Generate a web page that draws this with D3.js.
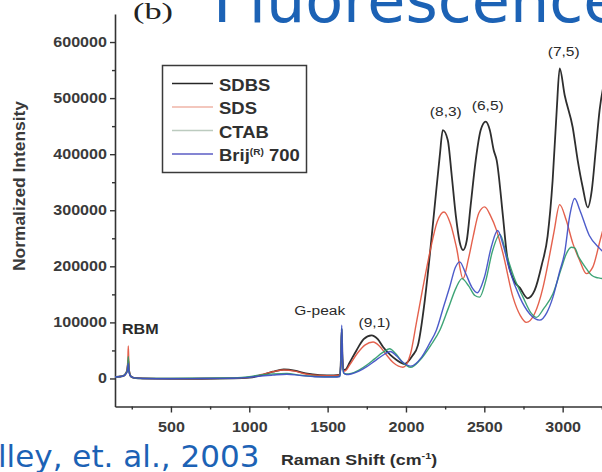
<!DOCTYPE html>
<html>
<head>
<meta charset="utf-8">
<script src="https://cdn.jsdelivr.net/npm/d3@7"></script>
<style>
  html, body { margin: 0; padding: 0; background: #ffffff; overflow: hidden; }
  svg { display: block; }
</style>
</head>
<body>
<svg id="chart" width="602" height="472"></svg>
<script>
// Raman spectra of single-walled carbon nanotubes suspended in four surfactants.

const seriesNames = ["SDBS", "SDS", "CTAB", "Brij 700"];
const seriesColors = ["#1c1c1c", "#e2543e", "#2e9c6a", "#3e4ec6"];
const legendColors = ["#262626", "#efb4a7", "#bccbbf", "#5b5dc4"];

const shiftMajorTicks = [500, 1000, 1500, 2000, 2500, 3000];
const shiftMinorTicks = [250, 750, 1250, 1750, 2250, 2750, 3250];
const intensityMajorTicks = [0, 100000, 200000, 300000, 400000, 500000, 600000];
const intensityMinorTicks = [50000, 150000, 250000, 350000, 450000, 550000];

// [Raman shift (cm^-1), normalized intensity]
const sdbs = [
  [143, 2500], [180, 3500], [200, 5000], [212, 9000], [220, 14000], [225, 24000], [228, 32000],
  [231, 20000], [236, 9000], [245, 3500], [265, 1000], [320, 0], [500, -500], [700, -500],
  [900, 0], [1000, 1500], [1080, 6000], [1150, 12000], [1220, 16000], [1290, 14000], [1360, 9000],
  [1450, 6000], [1540, 5500], [1578, 7000], [1585, 35000], [1590, 88000], [1595, 35000],
  [1602, 15000], [1615, 16000], [1640, 28000], [1684, 50000], [1730, 70000], [1780, 77000],
  [1820, 70000], [1854, 56000], [1900, 42000], [1940, 33000], [1992, 26000], [2040, 40000],
  [2076, 59000], [2120, 139000], [2152, 220000], [2184, 309000], [2216, 398000], [2235, 443000],
  [2267, 425000], [2292, 362000], [2318, 291000], [2343, 243000], [2365, 229000], [2388, 246000],
  [2413, 309000], [2445, 389000], [2477, 443000], [2509, 458000], [2535, 443000], [2560, 407000],
  [2579, 389000], [2619, 289000], [2643, 223000], [2688, 175000], [2726, 162000], [2777, 143000],
  [2821, 157000], [2866, 202000], [2904, 254000], [2936, 353000], [2962, 478000], [2981, 553000],
  [3013, 505000], [3064, 448000], [3096, 389000], [3128, 341000], [3160, 305000], [3186, 336000],
  [3211, 407000], [3236, 479000], [3268, 532000]
];

const sds = [
  [143, 2500], [180, 3500], [200, 5000], [212, 9000], [220, 16000], [225, 34000], [228, 58000],
  [231, 30000], [236, 10000], [245, 3500], [265, 1000], [320, 0], [500, -500], [700, 0],
  [900, 500], [1000, 2000], [1080, 7000], [1150, 12000], [1220, 15000], [1290, 13000], [1360, 8000],
  [1450, 5500], [1540, 5000], [1578, 6500], [1585, 33000], [1590, 85000], [1595, 33000],
  [1602, 13000], [1615, 14000], [1640, 24000], [1690, 45000], [1740, 60000], [1790, 65000],
  [1830, 58000], [1870, 44000], [1920, 28000], [1981, 20000], [2030, 45000], [2067, 100000],
  [2110, 165000], [2151, 223000], [2200, 280000], [2243, 297000], [2285, 275000], [2322, 234000],
  [2364, 178000], [2400, 215000], [2428, 252000], [2465, 295000], [2502, 306000], [2540, 290000],
  [2577, 265000], [2620, 222000], [2683, 145000], [2730, 112000], [2768, 100000], [2820, 115000],
  [2875, 163000], [2910, 210000], [2945, 262000], [2981, 310000], [3023, 282000], [3066, 240000],
  [3108, 211000], [3151, 187000], [3193, 199000], [3236, 243000], [3280, 290000]
];

const ctab = [
  [143, 2500], [180, 3500], [200, 5000], [212, 9000], [220, 14000], [225, 26000], [228, 39000],
  [231, 22000], [236, 9000], [245, 3500], [265, 1000], [320, 0], [500, 0], [700, 500],
  [900, 1000], [1000, 3000], [1060, 6000], [1150, 8000], [1240, 9000], [1320, 6000], [1420, 3500],
  [1540, 3000], [1578, 4000], [1585, 33000], [1590, 90000], [1595, 33000], [1602, 10000],
  [1620, 8000], [1650, 9000], [1700, 15000], [1750, 24000], [1800, 35000], [1850, 46000],
  [1895, 53000], [1935, 44000], [1975, 30000], [2030, 20000], [2090, 33000], [2160, 60000],
  [2216, 86000], [2270, 125000], [2322, 163000], [2357, 178000], [2400, 165000], [2440, 148000],
  [2470, 145000], [2510, 175000], [2550, 225000], [2600, 257000], [2640, 222000], [2690, 180000],
  [2747, 145000], [2800, 116000], [2832, 109000], [2880, 125000], [2938, 151000], [2990, 195000],
  [3023, 222000], [3055, 234000], [3077, 233000], [3100, 218000], [3129, 205000], [3151, 196000],
  [3185, 184000], [3215, 180000], [3236, 179000], [3300, 175000]
];

const brij = [
  [143, 2500], [180, 3500], [200, 5000], [212, 8000], [220, 12000], [225, 19000], [228, 27000],
  [231, 16000], [236, 8000], [245, 3500], [265, 1000], [320, 0], [500, -500], [700, 0],
  [900, 500], [1000, 2000], [1060, 4000], [1150, 6000], [1240, 7500], [1320, 5500], [1420, 3000],
  [1540, 2500], [1578, 3500], [1585, 36000], [1590, 95000], [1595, 36000], [1602, 10000],
  [1620, 7000], [1650, 8000], [1700, 13000], [1750, 21000], [1800, 31000], [1850, 41000],
  [1900, 48000], [1940, 40000], [1980, 29000], [2030, 22000], [2100, 38000], [2150, 62000],
  [2194, 86000], [2240, 128000], [2279, 163000], [2315, 198000], [2343, 208000], [2380, 188000],
  [2420, 163000], [2455, 153000], [2500, 180000], [2545, 235000], [2585, 264000], [2620, 238000],
  [2660, 195000], [2726, 145000], [2790, 115000], [2853, 104000], [2900, 118000], [2938, 145000],
  [2980, 190000], [3013, 225000], [3045, 290000], [3077, 321000], [3110, 300000], [3170, 255000],
  [3236, 232000], [3300, 215000]
];

const seriesData = [sdbs, sds, ctab, brij];

// peak annotations: label, Raman shift and intensity of the labelled peak
const peakLabels = ["RBM", "G-peak", "(9,1)", "(8,3)", "(6,5)", "(7,5)"];
const peakShifts = [228, 1590, 1780, 2235, 2509, 2981];
const peakValues = [58000, 95000, 77000, 443000, 458000, 553000];

const svg = d3.select("#chart");
const SANS = "'Liberation Sans', Arial, sans-serif";
const STRETCH = 1.15;

const x = d3.scaleLinear().domain([143, 3500]).range([115, 641]);
const y = d3.scaleLinear().domain([-50000, 650000]).range([406.5, 14]);

// headline and citation text around the chart
svg.append("text")
  .attr("x", 213).attr("y", 22)
  .attr("font-family", "'DejaVu Sans', Verdana, sans-serif")
  .attr("font-size", 62)
  .attr("fill", "#1c62b5")
  .text("Fluorescence");

svg.append("text")
  .attr("x", -2).attr("y", 467)
  .attr("font-family", "'DejaVu Sans', Verdana, sans-serif")
  .attr("font-size", 31)
  .attr("fill", "#1c62b5")
  .text("lley, et. al., 2003");

svg.append("text")
  .attr("x", 133).attr("y", 19)
  .attr("font-family", "'Liberation Serif', 'Times New Roman', serif")
  .attr("font-size", 23)
  .attr("fill", "#222")
  .attr("textLength", 40)
  .attr("lengthAdjust", "spacingAndGlyphs")
  .text("(b)");

// axes
const axisColor = "#333";
function styleAxis(g) {
  g.select(".domain").attr("stroke", axisColor).attr("stroke-width", 1.6);
  g.selectAll(".tick line").attr("stroke", axisColor).attr("stroke-width", 1.4);
}

const yMinor = svg.append("g").attr("transform", "translate(115,0)")
  .call(d3.axisLeft(y).tickValues(intensityMinorTicks).tickSize(3).tickFormat(""));
styleAxis(yMinor);
yMinor.select(".domain").remove();

const yAxis = svg.append("g").attr("transform", "translate(115,0)")
  .call(d3.axisLeft(y).tickValues(intensityMajorTicks).tickSize(5).tickSizeOuter(0)
    .tickPadding(2).tickFormat(d3.format("d")));
styleAxis(yAxis);
yAxis.selectAll("text")
  .attr("font-family", SANS).attr("font-size", 14).attr("font-weight", "bold")
  .attr("fill", "#3a3a3a")
  .attr("transform", `scale(${STRETCH},1)`);

const xMinor = svg.append("g").attr("transform", "translate(0,406.5)")
  .call(d3.axisBottom(x).tickValues(shiftMinorTicks).tickSize(3).tickFormat(""));
styleAxis(xMinor);
xMinor.select(".domain").remove();

const xAxis = svg.append("g").attr("transform", "translate(0,406.5)")
  .call(d3.axisBottom(x).tickValues(shiftMajorTicks).tickSize(6).tickSizeOuter(0)
    .tickFormat(d3.format("d")));
styleAxis(xAxis);
xAxis.selectAll("text")
  .attr("font-family", SANS).attr("font-size", 14).attr("font-weight", "bold")
  .attr("fill", "#3a3a3a")
  .attr("y", 25.5).attr("dy", 0)
  .attr("transform", `scale(${STRETCH},1)`);

// axis titles
svg.append("text")
  .attr("transform", "translate(25,186) rotate(-90)")
  .attr("text-anchor", "middle")
  .attr("font-family", SANS).attr("font-size", 16.5).attr("font-weight", "bold")
  .attr("fill", "#3a3a3a")
  .attr("textLength", 170).attr("lengthAdjust", "spacingAndGlyphs")
  .text("Normalized Intensity");

const xTitle = svg.append("text")
  .attr("transform", `translate(281,465) scale(${STRETCH},1)`)
  .attr("font-family", SANS).attr("font-size", 15.5).attr("font-weight", "bold")
  .attr("fill", "#2e2e2e");
xTitle.append("tspan").text("Raman Shift (cm");
xTitle.append("tspan").attr("font-size", 9.5).attr("dy", -6).text("-1");
xTitle.append("tspan").attr("dy", 6).text(")");

// spectra
const line = d3.line()
  .x(d => x(d[0]))
  .y(d => y(d[1]))
  .curve(d3.curveMonotoneX);

const plot = svg.append("g");
seriesData.forEach((data, i) => {
  plot.append("path")
    .datum(data)
    .attr("fill", "none")
    .attr("stroke", seriesColors[i])
    .attr("stroke-width", i === 0 ? 1.8 : 1.4)
    .attr("stroke-linejoin", "round")
    .attr("opacity", 0.92)
    .attr("d", line);
});

// peak annotations
const labelOffsets = [
  { dx: 12, dy: -12 },
  { dx: -22, dy: -10 },
  { dx: 3, dy: -8 },
  { dx: 3, dy: -14 },
  { dx: 2, dy: -12 },
  { dx: 4, dy: -12 }
];
peakLabels.forEach((label, i) => {
  const px = x(peakShifts[i]) + labelOffsets[i].dx;
  const py = (i < 2 ? Math.min(y(peakValues[i]), 347) : y(peakValues[i])) + labelOffsets[i].dy;
  svg.append("text")
    .attr("transform", `translate(${px},${py}) scale(${STRETCH},1)`)
    .attr("text-anchor", "middle")
    .attr("font-family", SANS)
    .attr("font-size", i === 0 ? 14 : 13.5)
    .attr("font-weight", i === 0 ? "bold" : "normal")
    .attr("fill", "#2a2a2a")
    .text(label);
});

// legend
const legend = svg.append("g");
legend.append("rect")
  .attr("x", 162.5).attr("y", 65.5).attr("width", 144).attr("height", 107)
  .attr("fill", "#fff").attr("stroke", "#3a3a3a").attr("stroke-width", 1.5);

seriesNames.forEach((name, i) => {
  const ly = 83.5 + i * 23.5;
  legend.append("line")
    .attr("x1", 172).attr("x2", 213).attr("y1", ly).attr("y2", ly)
    .attr("stroke", legendColors[i]).attr("stroke-width", 1.6);
  const t = legend.append("text")
    .attr("transform", `translate(219,${ly + 7}) scale(1.12,1)`)
    .attr("font-family", SANS).attr("font-size", 16.5).attr("font-weight", "bold")
    .attr("fill", "#303030");
  if (name.startsWith("Brij")) {
    t.append("tspan").text("Brij");
    t.append("tspan").attr("font-size", 9).attr("dy", -6).text("(R)");
    t.append("tspan").attr("dy", 6).text(" 700");
  } else {
    t.text(name);
  }
});
</script>
</body>
</html>
